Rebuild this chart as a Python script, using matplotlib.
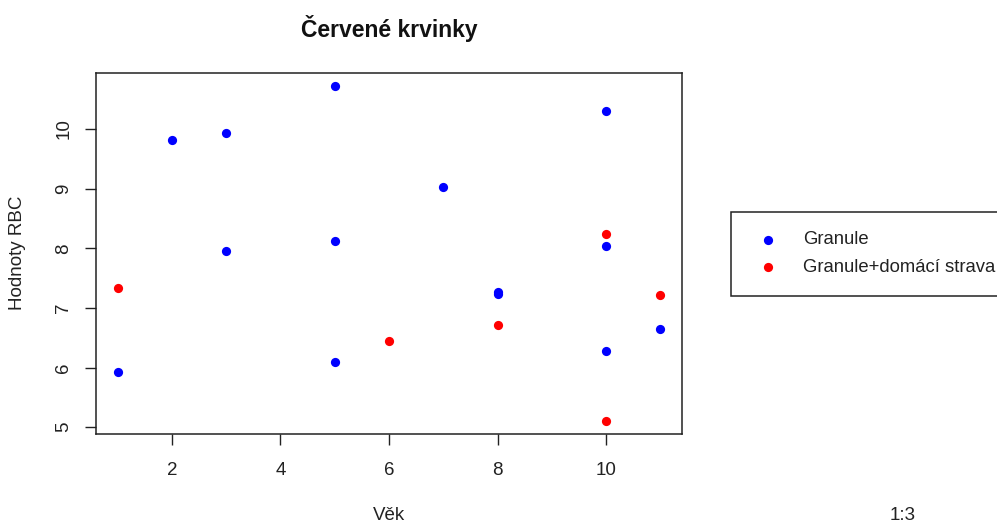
import matplotlib
matplotlib.use("Agg")
import matplotlib.pyplot as plt

plt.rcParams['font.family'] = ['Liberation Sans', 'DejaVu Sans']

# red blood cell counts by age, two diet groups
vek_granule = [1, 2, 3, 3, 5, 5, 5, 7, 8, 8, 10, 10, 10, 11]
rbc_granule = [5.92, 9.81, 9.93, 7.95, 10.72, 8.13, 6.09, 9.02, 7.23, 7.27, 10.30, 8.03, 6.28, 6.65]

vek_domaci = [1, 6, 8, 10, 10, 11]
rbc_domaci = [7.34, 6.45, 6.72, 8.24, 5.11, 7.22]

labels = ['Granule', 'Granule+domácí strava']
colors = ['#0000ff', '#ff0000']

W, H = 997, 522
fig = plt.figure(figsize=(W / 100, H / 100), dpi=100)
ax = fig.add_axes([96 / W, 1 - 434 / H, (682 - 96) / W, (434 - 72.7) / H])

ax.scatter(vek_granule, rbc_granule, s=44, color=colors[0], label=labels[0], linewidths=0)
ax.scatter(vek_domaci, rbc_domaci, s=44, color=colors[1], label=labels[1], linewidths=0)

# R-style 4% padding on both axes
allx = vek_granule + vek_domaci
ally = rbc_granule + rbc_domaci
dx = (max(allx) - min(allx)) * 0.04
dy = (max(ally) - min(ally)) * 0.04
ax.set_xlim(min(allx) - dx, max(allx) + dx)
ax.set_ylim(min(ally) - dy, max(ally) + dy)

ax.set_xticks([2, 4, 6, 8, 10])
ax.set_yticks([5, 6, 7, 8, 9, 10])
ax.tick_params(axis='both', length=8, width=1, color='#222222', labelsize=13.5,
               labelcolor='#222222')
ax.tick_params(axis='x', pad=12)
ax.tick_params(axis='y', pad=9)
for lbl in ax.get_yticklabels():
    lbl.set_rotation(90)
    lbl.set_va('center')
for sp in ax.spines.values():
    sp.set_linewidth(1.1)
    sp.set_color('#222222')

fig.text(389 / W, 1 - 28 / H, 'Červené krvinky', ha='center', va='center',
         fontsize=16.5, fontweight='bold', color='#111111')
fig.text(389 / W, 1 - 515 / H, 'Věk', ha='center', va='center', fontsize=13.5, color='#222222')
fig.text(18 / W, 1 - 253 / H, 'Hodnoty RBC', ha='center', va='center', rotation=90,
         fontsize=13.5, color='#222222')
fig.text(903 / W, 1 - 515 / H, '1:3', ha='center', va='center', fontsize=13.5, color='#222222')

leg = ax.legend(loc='upper left', bbox_to_anchor=(731 / W, 1 - 212 / H),
                bbox_transform=fig.transFigure, borderaxespad=0, fontsize=13.3,
                frameon=True, fancybox=False, framealpha=1, edgecolor='#222222',
                borderpad=1.05, handlelength=1.9, handletextpad=0.94, labelspacing=0.58,
                scatterpoints=1)
leg.get_frame().set_linewidth(1.1)
for t in leg.get_texts():
    t.set_color('#222222')

fig.savefig('out.png', dpi=100)
